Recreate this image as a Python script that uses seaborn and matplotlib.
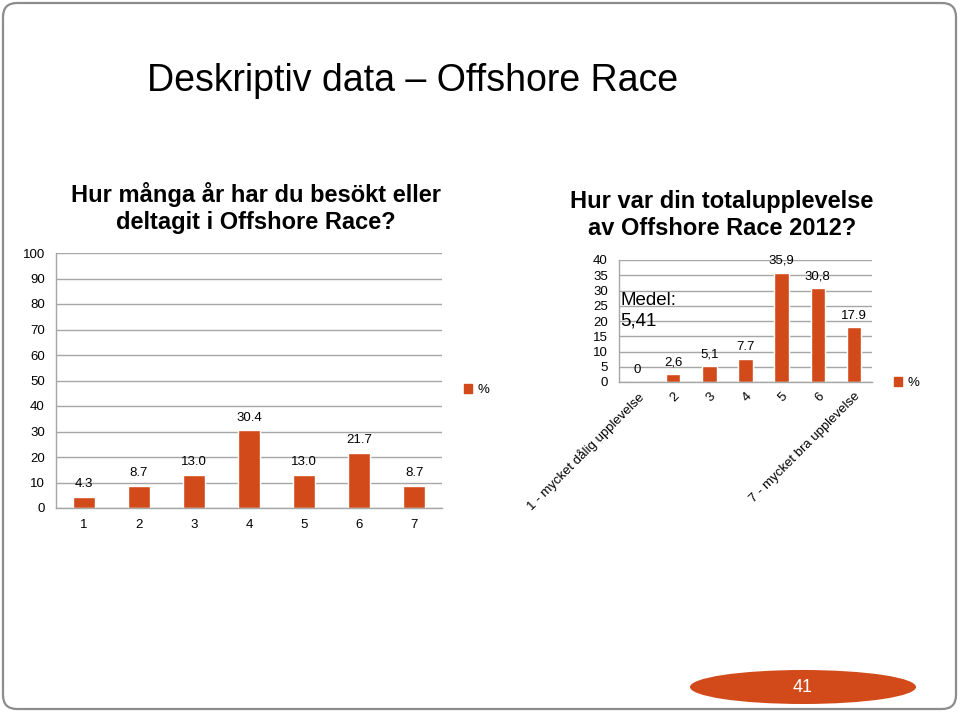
import matplotlib
matplotlib.use("Agg")
import matplotlib.pyplot as plt
import seaborn as sns
import pandas as pd
import numpy as np
from matplotlib.patches import Patch, Ellipse, FancyBboxPatch

# ---- data ----
years_cats = ["1", "2", "3", "4", "5", "6", "7"]
years_vals = [4.3, 8.7, 13.0, 30.4, 13.0, 21.7, 8.7]
years_labels = ["4.3", "8.7", "13.0", "30.4", "13.0", "21.7", "8.7"]

exp_cats = ["1 - mycket dålig upplevelse", "2", "3", "4", "5", "6", "7 - mycket bra upplevelse"]
exp_vals = [0, 2.6, 5.1, 7.7, 35.9, 30.8, 17.9]
exp_labels = ["0", "2,6", "5,1", "7.7", "35,9", "30,8", "17.9"]

title_main = "Deskriptiv data – Offshore Race"
title_left = "Hur många år har du besökt eller\ndeltagit i Offshore Race?"
title_right = "Hur var din totalupplevelse\nav Offshore Race 2012?"
medel_text = "Medel:\n5,41"
page_no = "41"

BAR = "#D24A19"
GRID = "#A6A6A6"

sns.set_theme(style="white")
plt.rcParams["font.family"] = ["Liberation Sans", "DejaVu Sans"]
plt.rcParams["text.color"] = "black"
plt.rcParams["xtick.color"] = "black"
plt.rcParams["ytick.color"] = "black"

W, H = 960, 712
fig = plt.figure(figsize=(W / 100, H / 100), dpi=100)
fig.patch.set_facecolor("white")

def fx(px):
    return px / W

def fy(py):
    return 1 - py / H

# slide border
border = FancyBboxPatch((3, 3), W - 7, H - 6, boxstyle="round,pad=0,rounding_size=14",
                        transform=None, fill=False, edgecolor="#8C8C8C", linewidth=1.6)
fig.patches.append(border)

fig.text(fx(147), fy(81), title_main, fontsize=27, ha="left", va="center", color="black")


def style_axes(ax, ymax, step, label_fs):
    ax.set_ylim(0, ymax)
    ax.set_yticks(np.arange(0, ymax + 0.1, step))
    ax.yaxis.grid(True, color=GRID, linewidth=1)
    ax.set_axisbelow(True)
    for s in ["top", "right"]:
        ax.spines[s].set_visible(False)
    for s in ["left", "bottom"]:
        ax.spines[s].set_color(GRID)
        ax.spines[s].set_linewidth(1)
    ax.set_xlabel("")
    ax.set_ylabel("")
    n = len(ax.get_xticks())
    ax.set_xlim(-0.5, n - 0.5)
    ax.set_xticks(np.arange(-0.5, n), minor=True)
    ax.tick_params(axis="x", which="major", length=0, labelsize=label_fs, pad=8,
                   labelcolor="black")
    ax.tick_params(axis="x", which="minor", length=5, color=GRID, width=1, direction="out")
    ax.tick_params(axis="y", which="major", length=5, color=GRID, width=1, direction="out",
                   labelsize=label_fs, pad=3, labelcolor="black")


# ---- left chart ----
df_l = pd.DataFrame({"cat": years_cats, "val": years_vals})
ax1 = fig.add_axes([fx(56), fy(508), fx(442) - fx(56), fy(253) - fy(508)])
sns.barplot(data=df_l, x="cat", y="val", color=BAR, width=0.4, saturation=1, ax=ax1)
style_axes(ax1, 100, 10, 9.5)
ax1.bar_label(ax1.containers[0], labels=years_labels, padding=5, fontsize=9.5, color="black")
fig.text(fx(256), fy(208), title_left, fontsize=17, fontweight="bold", ha="center",
         va="center", linespacing=1.2, color="black")
fig.legend(handles=[Patch(color=BAR)], labels=["%"], loc="center left",
           bbox_to_anchor=(fx(452), fy(390)), frameon=False, handlelength=0.6,
           handleheight=0.6, handletextpad=0.4, fontsize=9.5)

# ---- right chart ----
df_r = pd.DataFrame({"cat": exp_cats, "val": exp_vals})
ax2 = fig.add_axes([fx(619), fy(382), fx(872) - fx(619), fy(260) - fy(382)])
sns.barplot(data=df_r, x="cat", y="val", color=BAR, width=0.4, saturation=1, ax=ax2)
style_axes(ax2, 40, 5, 9.5)
ax2.bar_label(ax2.containers[0], labels=exp_labels, padding=4, fontsize=9.5, color="black")
for lab in ax2.get_xticklabels():
    lab.set_rotation(45)
    lab.set_ha("right")
    lab.set_rotation_mode("anchor")
ax2.tick_params(axis="x", which="major", pad=6)
fig.text(fx(722), fy(215), title_right, fontsize=17, fontweight="bold", ha="center",
         va="center", linespacing=1.2, color="black")
fig.text(fx(620), fy(311), medel_text, fontsize=13.5, ha="left", va="center",
         linespacing=1.25, color="black")
fig.legend(handles=[Patch(color=BAR)], labels=["%"], loc="center left",
           bbox_to_anchor=(fx(882), fy(383)), frameon=False, handlelength=0.6,
           handleheight=0.6, handletextpad=0.4, fontsize=9.5)

# ---- page number ----
ell = Ellipse((fx(803), fy(687)), fx(226), 34 / H, transform=fig.transFigure,
              facecolor=BAR, edgecolor="none")
fig.patches.append(ell)
fig.text(fx(803), fy(688), page_no, color="white", fontsize=13, ha="center", va="center")

fig.savefig("out.png", dpi=100)
